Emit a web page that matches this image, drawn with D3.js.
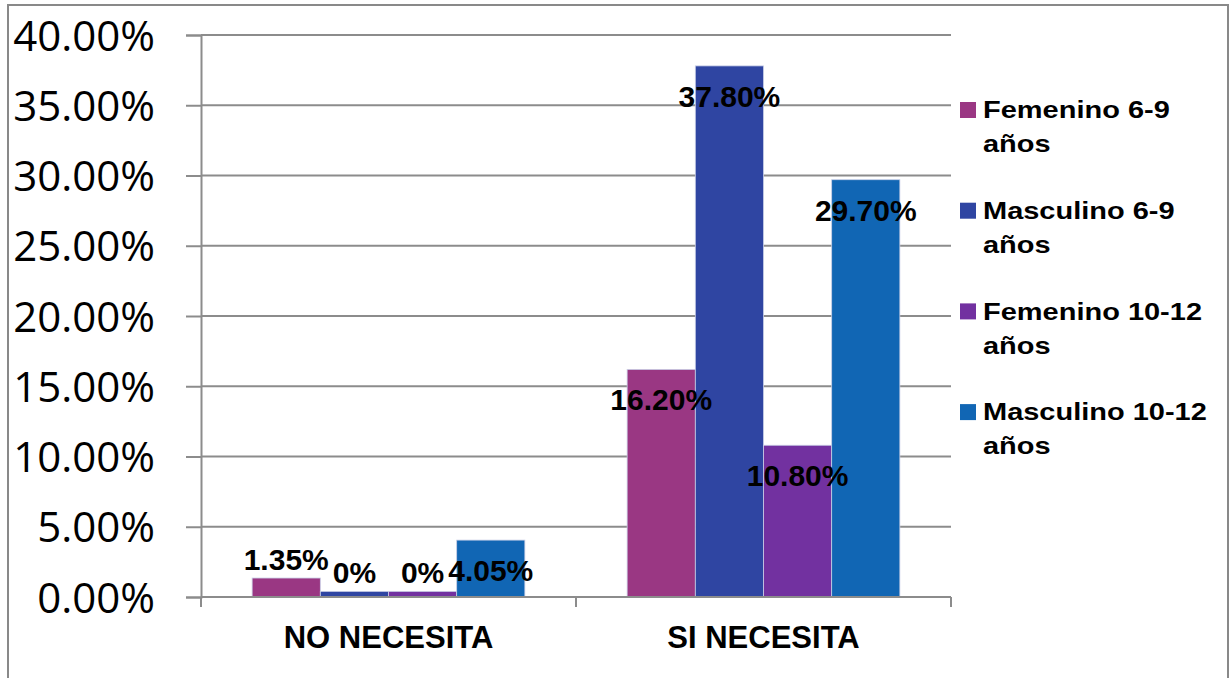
<!DOCTYPE html>
<html>
<head>
<meta charset="utf-8">
<script src="https://cdn.jsdelivr.net/npm/d3@7"></script>
<style>
  body { margin: 0; background: #fff; }
  svg { display: block; }
</style>
</head>
<body>
<svg id="chart"></svg>
<script>
// Data
const categories = ["NO NECESITA", "SI NECESITA"];
const seriesNames = ["Femenino 6-9 años", "Masculino 6-9 años", "Femenino 10-12 años", "Masculino 10-12 años"];
const legendLines = [["Femenino 6-9", "años"], ["Masculino 6-9", "años"], ["Femenino 10-12", "años"], ["Masculino 10-12", "años"]];
const femenino69 = [1.35, 16.2];
const masculino69 = [0.4, 37.8];
const femenino1012 = [0.4, 10.8];
const masculino1012 = [4.05, 29.7];
const labels69F = ["1.35%", "16.20%"];
const labels69M = ["0%", "37.80%"];
const labels1012F = ["0%", "10.80%"];
const labels1012M = ["4.05%", "29.70%"];
const yTicks = [0, 5, 10, 15, 20, 25, 30, 35, 40];
const colors = ["#9a3783", "#2f45a2", "#7231a0", "#1166b4"];

const seriesValues = [femenino69, masculino69, femenino1012, masculino1012];
const seriesLabels = [labels69F, labels69M, labels1012F, labels1012M];

const width = 1230, height = 678;
const plot = { left: 201, right: 951, top: 35, bottom: 597 };
const gridColor = "#8c8c8c";

const svg = d3.select("#chart")
    .attr("width", width)
    .attr("height", height);

// Outer chart frame
svg.append("rect")
    .attr("x", 8).attr("y", 5)
    .attr("width", 1220).attr("height", 700)
    .attr("fill", "none")
    .attr("stroke", "#898989")
    .attr("stroke-width", 2);

const x0 = d3.scaleBand()
    .domain(categories)
    .range([plot.left, plot.right])
    .paddingInner(1.5 / 5.5)
    .paddingOuter(0.75 / 5.5);

const x1 = d3.scaleBand()
    .domain(seriesNames)
    .range([0, x0.bandwidth()]);

const y = d3.scaleLinear()
    .domain([0, 40])
    .range([plot.bottom, plot.top]);

// Gridlines
svg.append("g")
    .selectAll("line")
    .data(yTicks)
    .join("line")
    .attr("x1", plot.left).attr("x2", plot.right)
    .attr("y1", d => y(d)).attr("y2", d => y(d))
    .attr("stroke", gridColor)
    .attr("stroke-width", 2);

// Y axis
const yAxis = svg.append("g")
    .attr("transform", `translate(${plot.left},0)`)
    .call(d3.axisLeft(y).tickValues(yTicks).tickSize(15).tickPadding(31)
        .tickFormat(d => d.toFixed(2) + "%"));
yAxis.select(".domain").attr("stroke", gridColor).attr("stroke-width", 2);
yAxis.selectAll(".tick line").attr("stroke", gridColor).attr("stroke-width", 2);
yAxis.selectAll(".tick text")
    .attr("fill", "#000")
    .attr("dy", "0.36em")
    .style("font", "42px 'Open Sans', sans-serif");

// Bars
const rows = [];
categories.forEach((c, ci) => {
    seriesNames.forEach((s, si) => {
        rows.push({ cat: c, series: s, si, value: seriesValues[si][ci], label: seriesLabels[si][ci] });
    });
});

svg.append("g")
    .selectAll("rect")
    .data(rows)
    .join("rect")
    .attr("x", d => x0(d.cat) + x1(d.series))
    .attr("y", d => y(d.value))
    .attr("width", x1.bandwidth())
    .attr("height", d => y(0) - y(d.value))
    .attr("fill", d => colors[d.si])
    .attr("stroke", "#c9cfe6")
    .attr("stroke-width", 0.8);

// X axis
const xAxis = svg.append("g")
    .attr("transform", `translate(0,${plot.bottom})`);
xAxis.append("line")
    .attr("x1", plot.left).attr("x2", plot.right)
    .attr("stroke", gridColor).attr("stroke-width", 2);
xAxis.selectAll(".xtick")
    .data([plot.left, (x0(categories[0]) + x0.bandwidth() + x0(categories[1])) / 2, plot.right])
    .join("line")
    .attr("class", "xtick")
    .attr("x1", d => d).attr("x2", d => d)
    .attr("y1", 0).attr("y2", 10)
    .attr("stroke", gridColor).attr("stroke-width", 2);
xAxis.selectAll("text")
    .data(categories)
    .join("text")
    .attr("x", d => x0(d) + x0.bandwidth() / 2)
    .attr("y", 40)
    .attr("dy", "0.36em")
    .attr("text-anchor", "middle")
    .style("font", "bold 31px 'Liberation Sans', Arial, sans-serif")
    .text(d => d);

// Data labels (inside end, above the bar when too short)
svg.append("g")
    .selectAll("text")
    .data(rows)
    .join("text")
    .attr("x", d => x0(d.cat) + x1(d.series) + x1.bandwidth() / 2)
    .attr("y", d => {
        const top = y(d.value);
        return (top + 43 <= y(0)) ? top + 30 : top - 19;
    })
    .attr("dy", "0.36em")
    .attr("text-anchor", "middle")
    .style("font", "bold 30px 'Liberation Sans', Arial, sans-serif")
    .text(d => d.label);

// Legend
const legend = svg.append("g");
const items = legend.selectAll("g")
    .data(seriesNames)
    .join("g")
    .attr("transform", (d, i) => `translate(960,${110 + i * 100.7})`);
items.append("rect")
    .attr("x", 0).attr("y", -8)
    .attr("width", 16).attr("height", 16)
    .attr("fill", (d, i) => colors[i]);
items.append("text")
    .attr("transform", "translate(23,0) scale(1.26,1)")
    .style("font", "bold 23px 'Liberation Sans', Arial, sans-serif")
    .selectAll("tspan")
    .data((d, i) => legendLines[i])
    .join("tspan")
    .attr("x", 0)
    .attr("y", (d, j) => j * 34)
    .attr("dy", "0.36em")
    .text(d => d);
</script>
</body>
</html>
